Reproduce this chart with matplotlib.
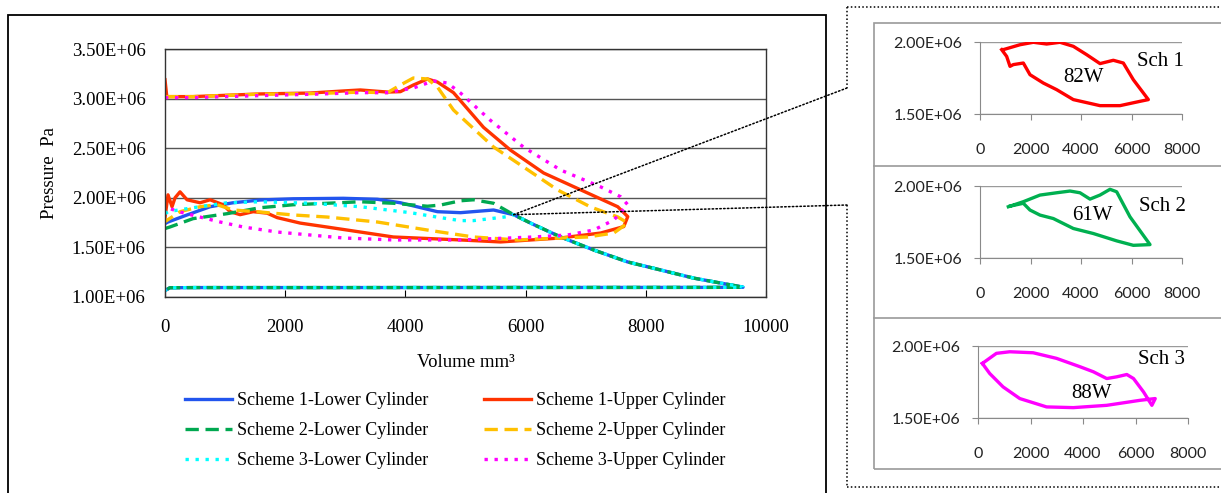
import matplotlib
matplotlib.use('Agg')
import matplotlib.pyplot as plt
from matplotlib.lines import Line2D
from matplotlib.patches import Rectangle, ConnectionPatch
from matplotlib.ticker import FuncFormatter

# ---- main chart data (volume mm3, pressure Pa) ----
s1_up_v = [0, 30, 467, 1583, 2417, 2967, 3250, 3700, 3917, 4133, 4367, 4533, 4800, 5300, 5750, 6300, 6917, 7533, 7700,
           7633, 7250, 6583, 5583, 4917, 3800, 3250, 2700, 2250, 1867, 1700, 1467, 1250, 1083, 967, 750, 583, 367,
           250, 167, 117, 50, 0]
s1_up_p = [3.19e6, 3.02e6, 3.02e6, 3.047e6, 3.056e6, 3.077e6, 3.087e6, 3.066e6, 3.07e6, 3.137e6, 3.198e6, 3.167e6,
           3.06e6, 2.71e6, 2.48e6, 2.25e6, 2.08e6, 1.91e6, 1.81e6,
           1.71e6, 1.645e6, 1.595e6, 1.555e6, 1.575e6, 1.605e6, 1.655e6, 1.705e6, 1.745e6, 1.80e6, 1.845e6, 1.86e6,
           1.83e6, 1.86e6, 1.93e6, 1.98e6, 1.95e6, 1.98e6, 2.06e6, 2.0e6, 1.91e6, 2.03e6, 1.80e6]

s2_up_v = [0, 30, 467, 1583, 2417, 2967, 3250, 3700, 3917, 4133, 4367, 4533, 4800, 5033, 5467, 5967, 6533, 7083, 7533,
           7700, 7467, 7033, 6583, 5867, 5133, 4583, 4367, 3533, 2700, 2133, 1583, 1133, 867, 583, 250, 50, 0]
s2_up_p = [3.02e6, 3.02e6, 3.02e6, 3.045e6, 3.05e6, 3.06e6, 3.065e6, 3.06e6, 3.137e6, 3.208e6, 3.198e6, 3.117e6,
           2.885e6, 2.754e6, 2.512e6, 2.31e6, 2.079e6, 1.907e6, 1.807e6,
           1.746e6, 1.645e6, 1.605e6, 1.595e6, 1.575e6, 1.605e6, 1.655e6, 1.675e6, 1.756e6, 1.806e6, 1.827e6,
           1.857e6, 1.877e6, 1.93e6, 1.91e6, 1.86e6, 1.78e6, 1.76e6]

s3_up_v = [0, 467, 1583, 2500, 3250, 3700, 4133, 4467, 4700, 4917, 5417, 5967, 6583, 7250, 7583, 7700,
           7467, 7133, 6700, 6133, 4917, 3800, 2967, 2417, 1867, 1300, 917, 583, 250, 50]
s3_up_p = [3.01e6, 3.01e6, 3.03e6, 3.045e6, 3.06e6, 3.06e6, 3.107e6, 3.178e6, 3.157e6, 3.056e6, 2.78e6, 2.51e6,
           2.28e6, 2.11e6, 2.01e6, 1.93e6,
           1.776e6, 1.675e6, 1.625e6, 1.605e6, 1.575e6, 1.575e6, 1.595e6, 1.625e6, 1.655e6, 1.706e6, 1.756e6,
           1.806e6, 1.857e6, 1.897e6]

# lower cylinders: scheme specific part, then shared expansion and base line
s1_low_v = [0, 50, 367, 750, 1133, 1583, 2133, 2967, 3533, 3917, 4533, 4917, 5467]
s1_low_p = [1.74e6, 1.756e6, 1.827e6, 1.91e6, 1.95e6, 1.978e6, 1.99e6, 1.995e6, 1.985e6, 1.95e6, 1.86e6, 1.85e6,
            1.877e6]
s2_low_v = [0, 83, 467, 1033, 1583, 2133, 2700, 3250, 3800, 4367, 4583, 4917, 5133, 5467]
s2_low_p = [1.69e6, 1.706e6, 1.79e6, 1.84e6, 1.9e6, 1.93e6, 1.945e6, 1.96e6, 1.945e6, 1.915e6, 1.927e6, 1.97e6,
            1.98e6, 1.945e6]
s3_low_v = [0, 50, 467, 1033, 1583, 2417, 3250, 4083, 4583, 4917, 5133, 5700]
s3_low_p = [1.84e6, 1.86e6, 1.9e6, 1.95e6, 1.96e6, 1.945e6, 1.91e6, 1.85e6, 1.8e6, 1.77e6, 1.77e6, 1.81e6]

exp_v = [5800, 6100, 6583, 7133, 7700, 8250, 8800, 9250, 9617]
exp_p = [1.83e6, 1.74e6, 1.605e6, 1.474e6, 1.353e6, 1.272e6, 1.19e6, 1.14e6, 1.10e6]
base_v = [9617, 9000, 6000, 3000, 500, 80, 0]
base_p = [1.098e6, 1.097e6, 1.096e6, 1.095e6, 1.095e6, 1.093e6, 1.065e6]

series_labels = ['Scheme 1-Lower Cylinder', 'Scheme 1-Upper Cylinder', 'Scheme 2-Lower Cylinder',
                 'Scheme 2-Upper Cylinder', 'Scheme 3-Lower Cylinder', 'Scheme 3-Upper Cylinder']

# ---- inset loops ----
sch1_v = [924, 1584, 2112, 2640, 3168, 3696, 4224, 4752, 5280, 5676, 6073, 6667,
          6337, 5545, 4752, 3696, 3036, 2508, 1980, 1716, 1320, 1188, 1056, 858]
sch1_p = [1.947e6, 1.981e6, 1.998e6, 1.986e6, 1.998e6, 1.97e6, 1.912e6, 1.85e6, 1.873e6, 1.854e6, 1.738e6, 1.6e6,
          1.588e6, 1.558e6, 1.558e6, 1.6e6, 1.669e6, 1.715e6, 1.773e6, 1.854e6, 1.843e6, 1.831e6, 1.9e6, 1.947e6]
sch2_v = [1122, 1716, 2376, 3036, 3564, 3960, 4356, 4752, 5148, 5412, 5940, 6733,
          6073, 5412, 4488, 3696, 2904, 2376, 1980, 1716, 1188]
sch2_p = [1.856e6, 1.891e6, 1.937e6, 1.953e6, 1.965e6, 1.953e6, 1.909e6, 1.937e6, 1.977e6, 1.96e6, 1.786e6, 1.593e6,
          1.588e6, 1.619e6, 1.67e6, 1.705e6, 1.774e6, 1.798e6, 1.833e6, 1.88e6, 1.86e6]
sch3_v = [166, 701, 1210, 2102, 2994, 3885, 4395, 4904, 5287, 5669, 5924, 6306, 6624, 6752,
          6178, 4904, 3631, 2611, 1592, 955, 446, 166]
sch3_p = [1.879e6, 1.949e6, 1.96e6, 1.953e6, 1.914e6, 1.856e6, 1.821e6, 1.774e6, 1.786e6, 1.802e6, 1.774e6,
          1.681e6, 1.588e6, 1.635e6, 1.623e6, 1.588e6, 1.572e6, 1.577e6, 1.635e6, 1.716e6, 1.809e6, 1.879e6]
inset_names = ['Sch 1', 'Sch 2', 'Sch 3']
inset_power = ['82W', '61W', '88W']

W, H = 1221, 493


def fx(x):
    return x / W


def fy(y):
    return 1 - y / H


def sci(v, pos):
    return '%.2fE+06' % (v / 1e6)


plt.rcParams['font.family'] = ['Liberation Serif', 'DejaVu Serif']
plt.rcParams['lines.solid_joinstyle'] = 'round'
plt.rcParams['lines.dash_joinstyle'] = 'round'

fig = plt.figure(figsize=(W / 100, H / 100), dpi=100)

# outer frame of main chart and dotted frame of insets
fig.add_artist(Rectangle((fx(8), fy(500)), fx(826) - fx(8), fy(15) - fy(500), transform=fig.transFigure,
                         fill=False, ec='black', lw=1.3))
dot = (0, (1, 1.5))
for xs, ys in [([847, 1230], [7, 7]), ([847, 1230], [487, 487]), ([847, 847], [7, 88]), ([847, 847], [205, 487])]:
    fig.add_artist(Line2D([fx(x) for x in xs], [fy(y) for y in ys], transform=fig.transFigure,
                          color='black', lw=1.1, linestyle=dot))
# solid panel borders
fig.add_artist(Rectangle((fx(874), fy(469)), fx(1230) - fx(874), fy(23) - fy(469), transform=fig.transFigure,
                         fill=False, ec='#9a9a9a', lw=1.2))
for yy in [166, 318]:
    fig.add_artist(Line2D([fx(874), fx(1230)], [fy(yy), fy(yy)], transform=fig.transFigure, color='#9a9a9a', lw=1.2))

# ---- main axes ----
ax = fig.add_axes([fx(165), fy(297), fx(766) - fx(165), fy(49) - fy(297)])
lw = 2.4
dash = (0, (4, 2))
dots = (0, (1, 2))
h1l, = ax.plot(s1_low_v + exp_v + base_v, s1_low_p + exp_p + base_p, color='#2255EE', lw=lw)
h1u, = ax.plot(s1_up_v, s1_up_p, color='#FF3300', lw=lw)
h2l, = ax.plot(s2_low_v + exp_v + base_v, s2_low_p + exp_p + base_p, color='#00A850', lw=lw, linestyle=dash)
h2u, = ax.plot(s2_up_v, s2_up_p, color='#FFC000', lw=lw, linestyle=dash)
h3l, = ax.plot(s3_low_v + exp_v + base_v, s3_low_p + exp_p + base_p, color='#00FFFF', lw=lw, linestyle=dots)
h3u, = ax.plot(s3_up_v, s3_up_p, color='#FF00FF', lw=lw, linestyle=dots)

ax.set_xlim(0, 10000)
ax.set_ylim(1.0e6, 3.5e6)
ax.set_xticks([0, 2000, 4000, 6000, 8000, 10000])
ax.set_yticks([1.0e6, 1.5e6, 2.0e6, 2.5e6, 3.0e6, 3.5e6])
ax.yaxis.set_major_formatter(FuncFormatter(sci))
ax.grid(axis='y', color='#555555', lw=1)
ax.set_axisbelow(True)
ax.tick_params(axis='x', direction='in', length=5, pad=16, labelsize=13.5)
ax.tick_params(axis='y', length=0, pad=14, labelsize=13.5)
for s in ax.spines.values():
    s.set_color('#333333')
    s.set_linewidth(1)
ax.set_xlabel('Volume mm³', fontsize=13.5, labelpad=13)
ax.set_ylabel('Pressure  Pa', fontsize=13.5, labelpad=10)

fig.legend([h1l, h2l, h3l, h1u, h2u, h3u],
           [series_labels[0], series_labels[2], series_labels[4], series_labels[1], series_labels[3], series_labels[5]],
           ncol=2, loc='upper left', bbox_to_anchor=(fx(176), fy(383)), frameon=False, fontsize=13,
           borderpad=0, handlelength=2.6, handletextpad=0.3, labelspacing=0.72, columnspacing=3.05)

# connectors from the lower loop to the inset frame
for ty in [88, 205]:
    fig.add_artist(ConnectionPatch(xyA=(5800, 1.83e6), coordsA=ax.transData, xyB=(fx(847), fy(ty)),
                                   coordsB=fig.transFigure, color='black', lw=1.1, linestyle=dot))

# ---- insets ----
inset_boxes = [(980, 1182, 42, 114), (980, 1182, 186, 258), (978, 1188, 346, 418)]
inset_data = [(sch1_v, sch1_p, '#FF0000'), (sch2_v, sch2_p, '#00B050'), (sch3_v, sch3_p, '#FF00FF')]
name_pos = [(1160, 62), (1162, 207), (1162, 359)]
power_pos = [(1083, 78), (1092, 216), (1092, 393)]
for i in range(3):
    x0, x1, y0, y1 = inset_boxes[i]
    a = fig.add_axes([fx(x0), fy(y1), fx(x1) - fx(x0), fy(y0) - fy(y1)])
    v, p, c = inset_data[i]
    a.plot(v, p, color=c, lw=2.4)
    a.set_xlim(0, 8000)
    a.set_ylim(1.5e6, 2.0e6)
    a.set_xticks([0, 2000, 4000, 6000, 8000])
    a.set_yticks([1.5e6, 2.0e6])
    a.yaxis.set_major_formatter(FuncFormatter(sci))
    a.grid(axis='y', color='#9a9a9a', lw=1)
    a.spines['top'].set_visible(False)
    a.spines['right'].set_visible(False)
    a.spines['left'].set_color('#8a8a8a')
    a.spines['bottom'].set_color('#8a8a8a')
    a.tick_params(colors='#8a8a8a', labelcolor='#222222', length=4, labelsize=11.5)
    a.tick_params(axis='x', pad=17)
    a.tick_params(axis='y', pad=9)
    for lab in a.get_xticklabels() + a.get_yticklabels():
        lab.set_family('Lato')
    a.patch.set_alpha(0)
    fig.text(fx(name_pos[i][0]), fy(name_pos[i][1]), inset_names[i], fontsize=15, ha='center', va='center')
    fig.text(fx(power_pos[i][0]), fy(power_pos[i][1]), inset_power[i], fontsize=15, ha='center', va='center')

fig.savefig('out.png', dpi=100)
